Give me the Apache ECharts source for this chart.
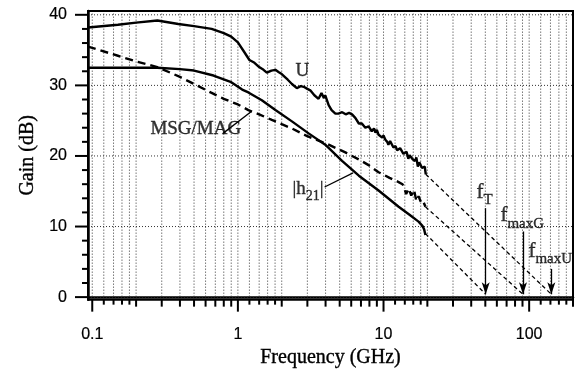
<!DOCTYPE html>
<html><head><meta charset="utf-8">
<script src="https://cdn.jsdelivr.net/npm/echarts@6/dist/echarts.min.js"></script>
<style>html,body{margin:0;padding:0;background:#fff}#c{width:580px;height:373px}</style>
</head><body><div id="c"></div>
<script>
// ---------- data ----------
const uFreq = [0.0935,0.15,0.2,0.28,0.39,0.5,0.66,0.8,0.9,1.0,1.1,1.2,1.3,1.4,1.5,1.58,1.7,1.81,1.9,2.0,2.2,2.35,2.54,2.7,2.83,3.0,3.14,3.35,3.58,3.75,3.9,3.98,4.2,4.4,4.67,4.9,5.2,5.5,5.8,6.08,6.4,6.77,7.1,7.5,7.9,8.3,8.6,8.8,9.0,9.25,9.5,9.8,10.0,10.3,10.6,10.8,11.1,11.4,11.7,12.1,12.4,12.7,13.0,13.4,13.7,14.1,14.4,14.8,15.1,15.5,15.9,16.5,16.8,17.2,17.6,18.0,18.4,18.9,19.2,19.5];
const uGain = [38.2,38.6,38.9,39.2,38.7,38.4,38.0,37.4,36.9,36.1,34.8,33.6,33.2,32.6,32.2,31.8,32.1,32.2,31.9,31.6,30.8,30.2,29.6,29.9,29.8,29.5,29.3,28.6,28.1,28.9,28.2,28.6,27.2,26.5,26.0,26.0,26.2,25.9,26.1,25.9,25.4,24.6,24.6,24.0,24.2,23.5,23.9,23.3,23.7,23.0,23.2,22.6,22.9,22.3,22.0,21.6,22.1,21.9,21.2,21.4,20.8,20.6,21.1,20.9,20.3,20.2,20.6,19.6,20.1,20.0,19.5,19.3,19.8,18.5,19.1,18.9,18.3,18.1,18.5,17.4];

const msgFreq = [0.0935,0.15,0.2,0.28,0.4,0.5,0.65,0.8,1.0,1.18,1.4,1.71,2.0,2.35,3.0,4.2,5.47,6.77,7.9,9.25,11,12.7,13.5,13.8,14.3,14.9,15.5,16.2,16.8,17.4,18.2,18.8,19.4];
const msgGain = [35.5,34.2,33.4,32.6,31.2,30.2,29.0,28.1,27.3,26.5,25.9,25.1,24.5,23.9,22.8,21.6,20.5,19.5,18.7,17.7,16.9,16.3,16.0,15.6,14.6,15.4,14.4,15.2,13.6,14.3,13.3,13.5,12.8];

const h21Freq = [0.0935,0.15,0.28,0.4,0.5,0.68,0.89,1.07,1.18,1.46,1.81,2.35,3.06,3.98,5.19,6.77,9.25,12.7,15,17.4,18.5,19.0,19.4];
const h21Gain = [32.5,32.5,32.5,32.3,32.1,31.4,30.5,29.4,29.0,27.9,26.5,24.9,23.2,21.6,19.3,17.2,15.1,12.8,11.7,10.7,10.1,9.6,8.8];

// extrapolation (-20 dB/dec) lines
const uExtFreq = [19.5, 142];   const uExtGain = [17.4, 0.4];
const msgExtFreq = [19.4, 90.7]; const msgExtGain = [12.8, 0.4];
const h21ExtFreq = [19.4, 50.3]; const h21ExtGain = [9.0, 0.4];

// cut-off frequencies (arrows)
const cutNames = ['fT', 'fmaxG', 'fmaxU'];
const cutFreq = [50.3, 90.7, 142];
const cutArrowTop = [12.6, 9.3, 4.0];
const cutArrowBottom = 0.4;

// axis ticks
const xMajorTicks = [0.1, 1, 10, 100];
const xTickLabels = ['0.1', '1', '10', '100'];
const xMinorTicks = [0.12,0.14,0.16,0.18,0.2,0.3,0.4,0.5,0.6,0.7,0.8,0.9,
                     1.2,1.4,1.6,1.8,2,3,4,5,6,7,8,9,
                     12,14,16,18,20,30,40,50,60,70,80,90,
                     120,140,160,180,200];
const yMajorTicks = [0, 10, 20, 30, 40];
const yTickLabels = ['0', '10', '20', '30', '40'];
const yMinorTicks = [2,4,6,8,12,14,16,18,22,24,26,28,32,34,36,38];

// ---------- chart ----------
const X_MIN = 0.0935, X_MAX = 200, Y_MIN = -0.36, Y_MAX = 40.54;
const serif = '"Liberation Serif","Times New Roman",serif';
const sans = '"Liberation Sans",Arial,sans-serif';
const zip = (a, b) => a.map((v, i) => [v, b[i]]);
const near = (a, b) => Math.abs(a - b) <= 1e-6 * Math.max(1, Math.abs(b));

const xTickData = xMajorTicks.map(v => [v, 0, 2]).concat(
  xMinorTicks.map(v => {
    const m = v / Math.pow(10, Math.floor(Math.log10(v) + 1e-9));
    return [v, 0, near(m, Math.round(m)) ? 1 : 0];
  }));
const yTickData = yMajorTicks.map(v => [X_MIN, v, 1]).concat(yMinorTicks.map(v => [X_MIN, v, 0]));

const chart = echarts.init(document.getElementById('c'), null, {renderer: 'canvas', width: 580, height: 373});

const lineBase = {type: 'line', showSymbol: false, symbol: 'none', silent: true, z: 5};
const txt = {color: '#000', textBorderColor: '#000', textBorderWidth: 0.35};

const option = {
  animation: false,
  backgroundColor: '#fff',
  grid: {left: 88, right: 7, top: 11, bottom: 69, show: true, borderColor: '#000', borderWidth: 2, backgroundColor: 'transparent', z: 6},
  xAxis: {
    type: 'log', logBase: 10, min: X_MIN, max: X_MAX,
    name: 'Frequency (GHz)', nameLocation: 'middle', nameGap: 46,
    nameTextStyle: Object.assign({fontFamily: serif, fontSize: 20}, txt),
    axisLine: {show: true, lineStyle: {color: '#000', width: 2.5}},
    axisTick: {show: false}, minorTick: {show: false},
    splitLine: {show: false}, minorSplitLine: {show: false},
    axisLabel: Object.assign({
      margin: 27, fontFamily: sans, fontSize: 16,
      formatter: v => { const i = xMajorTicks.findIndex(t => near(v, t)); return i >= 0 ? xTickLabels[i] : ''; }
    }, txt, {textBorderWidth: 0.2})
  },
  yAxis: {
    type: 'value', min: Y_MIN, max: Y_MAX,
    name: 'Gain (dB)', nameLocation: 'middle', nameGap: 33,
    nameTextStyle: Object.assign({fontFamily: serif, fontSize: 20}, txt),
    axisLine: {show: true, lineStyle: {color: '#000', width: 2.5}},
    axisTick: {show: false}, minorTick: {show: false},
    splitLine: {show: false},
    axisLabel: Object.assign({
      margin: 21, fontFamily: sans, fontSize: 16,
      formatter: v => { const i = yMajorTicks.findIndex(t => near(v, t)); return i >= 0 ? yTickLabels[i] : ''; }
    }, txt, {textBorderWidth: 0.2})
  },
  series: [
    { // vertical dotted grid + x ticks
      type: 'custom', silent: true, z: 1, clip: false,
      data: xTickData,
      renderItem: (params, api) => {
        const v = api.value(0), kind = api.value(2);
        const b = api.coord([v, Y_MIN]);
        const t = api.coord([v, Y_MAX]);
        const len = kind === 2 ? 12 : (kind === 1 ? 7 : 5);
        return {type: 'group', children: [
          {type: 'line', shape: {x1: b[0], y1: b[1], x2: t[0], y2: t[1]}, style: {stroke: '#333', lineWidth: 1, lineDash: [1, 2]}},
          {type: 'line', shape: {x1: b[0], y1: b[1], x2: b[0], y2: b[1] + len}, style: {stroke: '#000', lineWidth: 2}}
        ]};
      }
    },
    { // horizontal dotted grid + y ticks
      type: 'custom', silent: true, z: 1, clip: false,
      data: yTickData,
      renderItem: (params, api) => {
        const v = api.value(1), major = api.value(2) === 1;
        const l = api.coord([X_MIN, v]);
        const r = api.coord([X_MAX, v]);
        const children = [{type: 'line', shape: {x1: l[0], y1: l[1], x2: l[0] - (major ? 13 : 6), y2: l[1]}, style: {stroke: '#000', lineWidth: 2}}];
        if (major) children.push({type: 'line', shape: {x1: l[0], y1: l[1], x2: r[0], y2: r[1]}, style: {stroke: '#333', lineWidth: 1, lineDash: [1, 2]}});
        return {type: 'group', children};
      }
    },
    Object.assign({}, lineBase, {name: 'U', data: zip(uFreq, uGain), lineStyle: {color: '#000', width: 2.4}}),
    Object.assign({}, lineBase, {name: 'MSG/MAG', data: zip(msgFreq, msgGain), lineStyle: {color: '#000', width: 2.4, type: [8, 5]}}),
    Object.assign({}, lineBase, {name: '|h21|', data: zip(h21Freq, h21Gain), lineStyle: {color: '#000', width: 2.4}}),
    Object.assign({}, lineBase, {name: 'U ext', data: zip(uExtFreq, uExtGain), lineStyle: {color: '#000', width: 1.3, type: [4, 3]}}),
    Object.assign({}, lineBase, {name: 'MSG ext', data: zip(msgExtFreq, msgExtGain), lineStyle: {color: '#000', width: 1.3, type: [4, 3]}}),
    Object.assign({}, lineBase, {
      name: 'h21 ext', data: zip(h21ExtFreq, h21ExtGain), lineStyle: {color: '#000', width: 1.3, type: [4, 3]},
      markLine: {
        silent: true, animation: false,
        label: {show: false},
        lineStyle: {color: '#000', width: 1.3, type: 'solid'},
        emphasis: {disabled: true},
        data: cutFreq.map((f, i) => [
          {coord: [f, cutArrowTop[i]], symbol: 'none'},
          {coord: [f, cutArrowBottom], symbol: 'arrow', symbolSize: [6, 12]}
        ]).concat([
          [{coord: [0.79, 23.2], symbol: 'none'}, {coord: [1.237, 26.3], symbol: 'none'}],
          [{coord: [3.94, 15.6], symbol: 'none'}, {coord: [6.18, 17.6], symbol: 'none'}]
        ])
      }
    }),
    { // text annotations
      type: 'scatter', silent: true, symbolSize: 0, z: 7,
      label: {show: true, position: 'inside', color: '#000', fontFamily: serif,
        rich: {
          m: Object.assign({fontFamily: serif, fontSize: 19, lineHeight: 24, verticalAlign: 'top'}, txt),
          s: Object.assign({fontFamily: serif, fontSize: 14, lineHeight: 24, verticalAlign: 'bottom'}, txt),
          fm: Object.assign({fontFamily: serif, fontSize: 21, lineHeight: 26, verticalAlign: 'top'}, txt),
          fs: Object.assign({fontFamily: serif, fontSize: 15, lineHeight: 26, verticalAlign: 'bottom'}, txt)
        }},
      data: [
        {value: [2.766, 31.7], label: {formatter: '{m|U}'}},
        {value: [0.514, 23.4], label: {formatter: '{m|MSG/MAG}'}},
        {value: [3.03, 15.0], label: {formatter: '{m||h}{s|21}{m||}'}},
        {value: [49.5, 14.5], label: {formatter: '{fm|f}{fs|T}'}},
        {value: [89.6, 11.2], label: {formatter: '{fm|f}{fs|maxG}'}},
        {value: [139.5, 6.1], label: {formatter: '{fm|f}{fs|maxU}'}}
      ]
    }
  ]
};
chart.setOption(option);
</script>
</body></html>
